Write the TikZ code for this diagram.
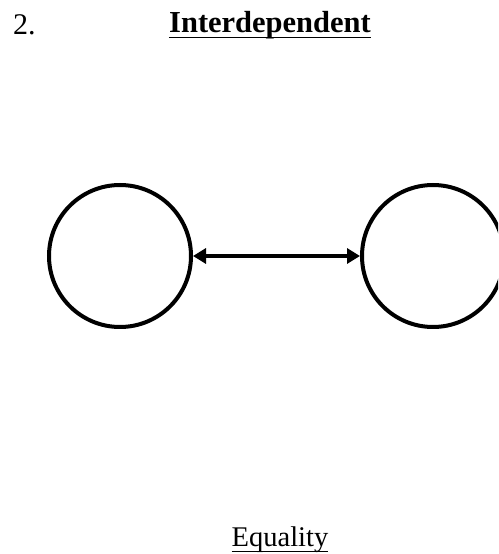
\documentclass[tikz,border=0pt]{standalone}
\usepackage{fontspec}
\setmainfont{Liberation Serif}
\usetikzlibrary{arrows.meta}
\tikzset{
  ring/.style={circle, draw=black, line width=4pt, minimum size=142pt, inner sep=0pt},
  link/.style={{Triangle[length=13pt,width=15pt]}-{Triangle[length=13pt,width=15pt]}, line width=3.2pt},
  txt/.style={inner sep=0pt, anchor=base},
  uline/.style={line width=1.5pt}
}
\begin{document}
\begin{tikzpicture}[x=1pt,y=1pt]
\useasboundingbox (0,0) rectangle (498,554);
\clip (0,0) rectangle (498,554);
\fill[white] (0,0) rectangle (498,554);
\node[txt, anchor=base west, font=\fontsize{30}{34}\selectfont] (num) at (13,519) {2.};
\node[txt, font=\fontsize{30.5}{34}\selectfont\bfseries] (title) at (270,521) {Interdependent};
\draw[uline] (title.base west) ++(0,-4.5) coordinate (t1) -- (t1 -| title.base east);
\node[ring] (A) at (120,298) {};
\node[ring] (B) at (433,298) {};
\draw[link] (A) -- (B);
\node[txt, font=\fontsize{28.5}{32}\selectfont] (eq) at (280,7) {Equality};
\draw[line width=1.2pt] (eq.base west) ++(0,-4.5) coordinate (e1) -- (e1 -| eq.base east);
\end{tikzpicture}
\end{document}
